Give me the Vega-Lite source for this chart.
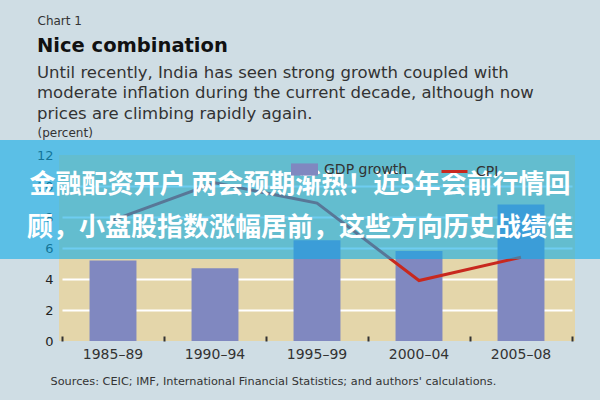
{
  "$schema": "https://vega.github.io/schema/vega-lite/v6.json",
  "autosize": {"type": "none"},
  "width": 516,
  "height": 186,
  "padding": {"left": 59, "top": 155, "right": 25, "bottom": 59},
  "background": "#cfdde4",
  "config": {
    "view": {"fill": "#e4d6aa", "stroke": null},
    "font": "DejaVu Sans"
  },
  "title": {
    "text": "Nice combination",
    "subtitle": [
      "Until recently, India has seen strong growth coupled with",
      "moderate inflation during the current decade, although now",
      "prices are climbing rapidly again."
    ],
    "anchor": "start",
    "frame": "group",
    "dx": -22,
    "offset": -109,
    "font": "DejaVu Sans",
    "fontSize": 19.5,
    "fontWeight": "bold",
    "color": "#111111",
    "subtitleFont": "DejaVu Sans",
    "subtitleFontSize": 16.5,
    "subtitleColor": "#333333",
    "subtitleLineHeight": 20.5,
    "subtitlePadding": 8
  },
  "data": {
    "values": [
      {"period": "1985–89", "gdp": 5.2, "cpi": 7.8},
      {"period": "1990–94", "gdp": 4.7, "cpi": 10.2},
      {"period": "1995–99", "gdp": 6.5, "cpi": 8.9},
      {"period": "2000–04", "gdp": 5.8, "cpi": 3.9},
      {"period": "2005–08", "gdp": 8.8, "cpi": 5.4}
    ]
  },
  "resolve": {"axis": {"x": "independent"}},
  "layer": [
    {
      "mark": {"type": "bar", "width": {"band": 0.46}},
      "encoding": {
        "x": {
          "field": "period",
          "type": "nominal",
          "sort": null,
          "scale": {"type": "band", "paddingInner": 0, "paddingOuter": 0, "range": [3, 513]},
          "axis": {
            "title": "Sources: CEIC; IMF, International Financial Statistics; and authors' calculations.",
            "titleFont": "DejaVu Sans",
            "titleFontSize": 11.3,
            "titleFontWeight": "normal",
            "titleColor": "#333333",
            "titleAnchor": "start",
            "titleAlign": "left",
            "titleBaseline": "middle",
            "titleX": -9,
            "titleY": 40,
            "labelAngle": 0,
            "labelFont": "DejaVu Sans",
            "labelFontSize": 14,
            "labelColor": "#333333",
            "labelPadding": 11,
            "domain": false,
            "ticks": true,
            "tickSize": -5,
            "tickWidth": 2,
            "tickColor": "#333333",
            "bandPosition": 1,
            "tickExtra": true,
            "grid": false
          }
        },
        "y": {
          "field": "gdp",
          "type": "quantitative",
          "scale": {"domain": [0, 12], "nice": false},
          "axis": {
            "title": "(percent)",
            "titleAngle": 0,
            "titleAlign": "left",
            "titleBaseline": "middle",
            "titleX": -22,
            "titleY": -23,
            "titleFont": "DejaVu Sans",
            "titleFontSize": 12,
            "titleFontWeight": "normal",
            "titleColor": "#333333",
            "values": [0, 2, 4, 6, 8, 10, 12],
            "tickCount": 12,
            "labelOverlap": false,
            "domain": false,
            "ticks": false,
            "labelPadding": 6,
            "labelFont": "DejaVu Sans",
            "labelFontSize": 13,
            "labelColor": "#222222",
            "gridColor": "#ffffff",
            "gridWidth": 2,
            "gridOpacity": {"condition": {"test": "datum.value == 0 || datum.value == 12", "value": 0}, "value": 1}
          }
        },
        "fill": {
          "datum": "GDP growth",
          "scale": {"range": ["#8088c0"]},
          "legend": {
            "orient": "none",
            "legendX": 232,
            "legendY": 1,
            "zindex": -1,
            "title": null,
            "padding": 0,
            "symbolType": "M-1,-0.45H1V0.45H-1Z",
            "symbolSize": 729,
            "symbolStrokeWidth": 0,
            "symbolOpacity": 1,
            "labelFont": "DejaVu Sans",
            "labelFontSize": 14,
            "labelColor": "#333333",
            "labelOffset": 6
          }
        }
      }
    },
    {
      "mark": {"type": "line", "strokeWidth": 3},
      "encoding": {
        "x": {
          "field": "period",
          "type": "nominal",
          "sort": null,
          "axis": {
            "orient": "top",
            "title": "Chart 1",
            "labels": false,
            "ticks": false,
            "domain": false,
            "grid": false,
            "titleAnchor": "start",
            "titleAlign": "left",
            "titleBaseline": "middle",
            "titleX": -22,
            "titleY": -135,
            "titleFont": "DejaVu Sans",
            "titleFontSize": 12,
            "titleFontWeight": "normal",
            "titleColor": "#333333"
          }
        },
        "y": {"field": "cpi", "type": "quantitative"},
        "stroke": {
          "datum": "CPI",
          "scale": {"range": ["#c8281e"]},
          "legend": {
            "orient": "none",
            "legendX": 381,
            "legendY": 2,
            "zindex": -1,
            "title": null,
            "padding": 0,
            "symbolType": "stroke",
            "symbolSize": 676,
            "symbolStrokeWidth": 3,
            "labelFont": "DejaVu Sans",
            "labelFontSize": 14,
            "labelColor": "#333333",
            "labelOffset": 7
          }
        }
      }
    },
    {
      "data": {"values": [{"banner": 1}]},
      "mark": {
        "type": "rect",
        "color": "#0dace8",
        "opacity": 0.6,
        "x": {"expr": "-padding.left"},
        "x2": {"expr": "width + padding.right"}
      },
      "encoding": {
        "y": {"datum": 12.97, "type": "quantitative"},
        "y2": {"datum": 5.29}
      }
    },
    {
      "data": {"values": [{"label": "金融配资开户 两会预期渐热！近5年会前行情回"}]},
      "mark": {
        "type": "text",
        "font": "Noto Sans CJK SC",
        "fontSize": 26,
        "fontWeight": "bold",
        "color": "#ffffff",
        "align": "center",
        "baseline": "middle",
        "x": {"expr": "width/2 + (padding.right - padding.left)/2"}
      },
      "encoding": {
        "y": {"datum": 10.06, "type": "quantitative"},
        "text": {"field": "label"}
      }
    },
    {
      "data": {"values": [{"label": "顾，小盘股指数涨幅居前，这些方向历史战绩佳"}]},
      "mark": {
        "type": "text",
        "font": "Noto Sans CJK SC",
        "fontSize": 26,
        "fontWeight": "bold",
        "color": "#ffffff",
        "align": "center",
        "baseline": "middle",
        "x": {"expr": "width/2 + (padding.right - padding.left)/2"}
      },
      "encoding": {
        "y": {"datum": 7.29, "type": "quantitative"},
        "text": {"field": "label"}
      }
    }
  ]
}
